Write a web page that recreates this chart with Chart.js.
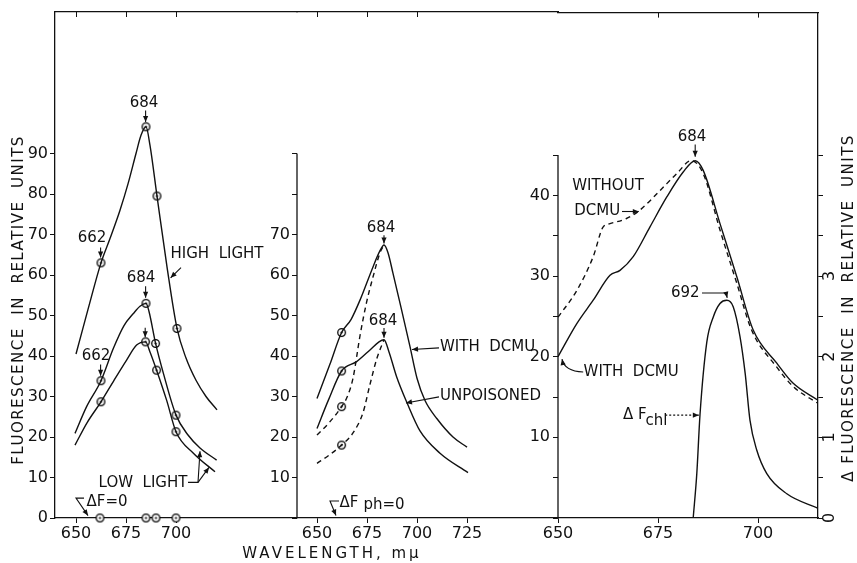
<!DOCTYPE html>
<html>
<head>
<meta charset="utf-8">
<script src="https://cdn.jsdelivr.net/npm/chart.js@4.4.1/dist/chart.umd.min.js"></script>
<style>
html, body { margin: 0; padding: 0; background: #fff; }
#wrap { position: relative; width: 857px; height: 563px; }
#wrap canvas { position: absolute; left: 0; top: 0; }
</style>
</head>
<body>
<div id="wrap">
  <canvas id="p1" width="857" height="563"></canvas>
  <canvas id="p2" width="857" height="563"></canvas>
  <canvas id="p3" width="857" height="563"></canvas>
</div>
<script>
// Painel 1 - luz alta / luz baixa
const highNm  = [650, 656, 662.5, 667, 672, 676, 680, 682.5, 685, 687, 690.5, 695.5, 700.5, 705, 710, 715, 720.5];
const highVal = [40.5, 51.5, 63, 69, 76, 82.5, 90, 94.5, 96.6, 92, 79.5, 62, 46.8, 39.5, 34, 30, 26.7];
const lowUpNm  = [649.5, 655.3, 662.5, 668.7, 674, 678.7, 682, 685, 686.5, 689.8, 693.7, 700, 706, 712, 720.3];
const lowUpVal = [20.9, 27.5, 33.9, 41.9, 47.5, 50.5, 52.3, 53, 51, 43.1, 35.7, 25.4, 20.5, 17.3, 14.3];
const lowDnNm  = [649.5, 655.5, 662.5, 669, 675.3, 680.3, 684.8, 687, 690.3, 695.3, 700, 708.7, 719.5];
const lowDnVal = [18, 23.5, 28.7, 34, 39, 42.7, 43.5, 41, 36.5, 29.1, 21.3, 16, 11.4];
const highMarkNm  = [662.5, 685, 690.5, 700.5];
const highMarkVal = [63, 96.6, 79.5, 46.8];
const lowUpMarkNm  = [662.5, 685, 689.8, 700];
const lowUpMarkVal = [33.9, 53, 43.1, 25.4];
const lowDnMarkNm  = [662.5, 684.8, 690.3, 700];
const lowDnMarkVal = [28.7, 43.5, 36.5, 21.3];
const zeroMarkNm  = [662, 685, 690, 700];
const zeroMarkVal = [0, 0, 0, 0];

// Painel 2 - com DCMU / sem veneno
const dcmuNm  = [650, 656.5, 662.3, 667, 671.5, 678, 681.5, 683.5, 685.5, 688, 692, 696.5, 700, 704, 710, 718, 725];
const dcmuVal = [29.5, 38, 45.8, 49, 53.8, 62, 66, 67.4, 65.5, 60.4, 52, 42.3, 34.5, 29, 24.5, 20, 17.5];
const unpNm  = [650, 655.7, 662.3, 669.8, 676.5, 681, 683.5, 686, 689.8, 694.8, 701.5, 711.5, 725.5];
const unpVal = [22.1, 29.1, 36.3, 38.6, 41.5, 43.5, 44, 41, 34.9, 28.7, 21.5, 16, 11.2];
const dcmuDashNm  = [650, 656, 662.3, 665, 668, 671.5, 674.8, 678, 681.5, 683.5];
const dcmuDashVal = [20.5, 23.5, 27.5, 29.8, 34.5, 45, 53.3, 59.5, 65.5, 67.4];
const unpDashNm  = [650, 656, 662.3, 668, 673, 676.5, 680, 683.5];
const unpDashVal = [13.5, 15.5, 18, 21, 26, 33, 39.5, 44];
const p2MarkNm  = [662.3, 662.3, 662.3, 662.3];
const p2MarkVal = [45.8, 36.3, 27.5, 18];

// Painel 3 - com / sem DCMU e delta F chl
const withNm  = [650, 654.7, 658.8, 663, 665.5, 668.8, 673, 677.2, 681.3, 684.3, 686.3, 690.5, 694.7, 698.8, 704.7, 708.8, 715];
const withVal = [20, 24.1, 27, 30.1, 30.7, 32.4, 36.1, 39.8, 42.9, 44.3, 43.1, 36.5, 29.9, 23.3, 19.2, 16.7, 14.6];
const withoutNm  = [650, 654.7, 658.8, 661.3, 663, 667, 670.3, 675.5, 679.7, 683.3, 686.3, 690.5, 694.7, 698.4, 704.7, 708.8, 715];
const withoutVal = [24.9, 28.2, 32.4, 36.1, 36.5, 37.1, 38.1, 40.6, 42.7, 44.3, 42.7, 35.7, 29.1, 23.3, 18.7, 16.3, 14.2];
const chlNm  = [683.8, 684.7, 685.5, 687.2, 688.8, 690.5, 692.2, 693.8, 695.5, 696.8, 698, 699.7, 702.2, 707.2, 715];
const chlVal = [0, 0.55, 1.28, 2.18, 2.49, 2.66, 2.7, 2.62, 2.25, 1.79, 1.21, 0.84, 0.55, 0.3, 0.12];

// Ticks
const p1XTicks = [650, 675, 700];
const p2XTicks = [650, 675, 700, 725];
const p2TopTicks = [650, 675, 700];
const p3XTicks = [650, 675, 700];
const p3TopTicks = [675, 700];
const p1YTicks = [0, 10, 20, 30, 40, 50, 60, 70, 80, 90];
const p2YTicks = [0, 10, 20, 30, 40, 50, 60, 70, 80, 90];
const p3YTicks = [0, 5, 10, 15, 20, 25, 30, 35, 40, 45];
const p3RightTicks = [0, 0.5, 1, 1.5, 2, 2.5, 3, 3.5, 4, 4.5];
const p3RightLabels = [0, 1, 2, 3];

const INK = '#111';
Chart.defaults.font.family = "'DejaVu Sans', sans-serif";
Chart.defaults.font.size = 16;
Chart.defaults.color = INK;

const xy = (nm, v) => nm.map((x, i) => ({ x, y: v[i] }));

// marcador: círculo com ponto no centro
function ringDot() {
    const c = document.createElement('canvas');
    c.width = c.height = 11;
    const g = c.getContext('2d');
    g.strokeStyle = '#000'; g.lineWidth = 1.3; g.fillStyle = '#fff';
    g.beginPath(); g.arc(5.5, 5.5, 3.8, 0, 2 * Math.PI); g.fill(); g.stroke();
    g.fillStyle = '#000';
    g.beginPath(); g.arc(5.5, 5.5, 1.1, 0, 2 * Math.PI); g.fill();
    return c;
}
const MARK = ringDot();

const curve = (data, dash, yAxisID) => ({
    data, yAxisID: yAxisID || 'y',
    borderColor: INK, borderWidth: 1.4, borderDash: dash ? [5, 4] : [],
    pointRadius: 0, cubicInterpolationMode: 'monotone', fill: false
});
const marks = (data) => ({
    data, showLine: false, pointStyle: MARK, pointRadius: 4, clip: false,
    borderColor: INK, backgroundColor: '#fff'
});

const GRID = { display: true, drawOnChartArea: false, drawTicks: true, tickLength: 5, color: INK, lineWidth: 1 };
const BORDER = { display: true, color: INK, width: 1.3 };
const setTicks = (list) => (s) => { s.ticks = list.map(v => ({ value: v })); };

function xScales(min, max, bottomTicks, topTicks) {
    return {
        x: { type: 'linear', position: 'bottom', min, max,
             afterBuildTicks: setTicks(bottomTicks), afterFit: s => { s.height = 30; },
             grid: GRID, border: BORDER, ticks: { padding: 1, maxRotation: 0, autoSkip: false } },
        xt: { type: 'linear', position: 'top', min, max,
              afterBuildTicks: setTicks(topTicks), afterFit: s => { s.height = 0; },
              grid: { ...GRID, tickLength: -5 }, border: BORDER, ticks: { display: false } }
    };
}

function head(ctx, a, b) {
    const ang = Math.atan2(b[1] - a[1], b[0] - a[0]), L = 6, W = 2.6;
    ctx.beginPath();
    ctx.moveTo(b[0], b[1]);
    ctx.lineTo(b[0] - L * Math.cos(ang) + W * Math.sin(ang), b[1] - L * Math.sin(ang) - W * Math.cos(ang));
    ctx.lineTo(b[0] - L * Math.cos(ang) - W * Math.sin(ang), b[1] - L * Math.sin(ang) + W * Math.cos(ang));
    ctx.closePath();
    ctx.fill();
}

// anotações em coordenadas de dados (nm, valor do eixo esquerdo)
function drawNotes(chart, notes) {
    const { ctx, scales } = chart;
    const X = v => scales.x.getPixelForValue(v);
    const Y = v => scales.y.getPixelForValue(v);
    ctx.save();
    ctx.fillStyle = INK; ctx.strokeStyle = INK; ctx.lineWidth = 1.1;
    notes.forEach(n => {
        if (n.t) {
            ctx.font = n.font || "15px 'DejaVu Sans'";
            ctx.textAlign = n.align || 'center';
            ctx.textBaseline = 'middle';
            ctx.fillText(n.t, X(n.x), Y(n.y));
        }
        if (n.path) {
            const p = n.path.map(([u, v]) => [X(u), Y(v)]);
            ctx.setLineDash(n.dash || []);
            ctx.beginPath();
            ctx.moveTo(p[0][0], p[0][1]);
            if (n.q) ctx.quadraticCurveTo(p[1][0], p[1][1], p[2][0], p[2][1]);
            else p.slice(1).forEach(q => ctx.lineTo(q[0], q[1]));
            ctx.stroke();
            ctx.setLineDash([]);
            head(ctx, p[p.length - 2], p[p.length - 1]);
        }
    });
    ctx.restore();
}

function vText(ctx, text, x, y, font, spacing) {
    ctx.save();
    ctx.translate(x, y);
    ctx.rotate(-Math.PI / 2);
    ctx.font = font;
    ctx.letterSpacing = spacing || '0px';
    ctx.textAlign = 'center'; ctx.textBaseline = 'middle';
    ctx.fillStyle = INK;
    ctx.fillText(text, 0, 0);
    ctx.restore();
}

const notes1 = [
    { t: '684', x: 684, y: 102.5 },
    { path: [[684.8, 100.6], [684.8, 97.8]] },
    { t: '662', x: 658, y: 69.1 },
    { path: [[662.3, 66.8], [662.3, 64.3]] },
    { t: 'HIGH  LIGHT', x: 720.5, y: 65.2 },
    { path: [[702.5, 61.8], [697.3, 59.3]] },
    { t: '684', x: 682.5, y: 59.3 },
    { path: [[684.8, 57.2], [684.8, 54.4]] },
    { path: [[684.6, 47], [684.6, 44.6]] },
    { t: '662', x: 660, y: 40 },
    { path: [[662.3, 37.9], [662.3, 35.1]] },
    { t: 'LOW  LIGHT', x: 683.5, y: 8.6 },
    { path: [[706, 8.8], [711, 8.8], [712, 16.5]] },
    { path: [[711, 8.8], [716.5, 12.5]] },
    { t: 'ΔF=0', x: 665.5, y: 4 },
    { path: [[654, 4.9], [650, 4.9], [656, 0.6]] }
];
const notes2 = [
    { t: '684', x: 682, y: 71.6 },
    { path: [[683.5, 69.8], [683.5, 67.8]] },
    { t: '684', x: 683, y: 48.6 },
    { path: [[683.5, 46.9], [683.5, 44.5]] },
    { t: 'WITH  DCMU', x: 711.5, y: 42.2, align: 'left' },
    { path: [[711, 42], [697.5, 41.6]] },
    { t: 'UNPOISONED', x: 711.5, y: 30.1, align: 'left' },
    { path: [[711, 29.9], [694.5, 28.4]] },
    { t: 'ΔF', x: 666, y: 3.8 },
    { t: 'ph=0', x: 683.5, y: 3.1 },
    { path: [[661, 4.2], [656.5, 4.2], [659.5, 0.6]] }
];
const notes3 = [
    { t: '684', x: 683.5, y: 47.2 },
    { path: [[684.3, 46.3], [684.3, 44.8]] },
    { t: 'WITHOUT', x: 662.5, y: 41.1 },
    { t: 'DCMU', x: 659.8, y: 38 },
    { path: [[666, 38], [670.2, 38]] },
    { t: 'WITH  DCMU', x: 668.3, y: 18.1 },
    { path: [[656.3, 18.1], [651.6, 18.2], [651, 19.7]], q: true },
    { t: '692', x: 681.8, y: 27.9 },
    { path: [[686, 27.9], [692, 27.9], [692.3, 27.3]] },
    { t: 'Δ F', x: 669.2, y: 12.75 },
    { t: 'chl', x: 674.6, y: 12.0 },
    { path: [[676.8, 12.75], [685.2, 12.75]], dash: [2, 2] }
];

const Y_MAX = 124.94;   // 0..90 na mesma escala dos painéis 1 e 2
const Y3_MAX = 62.66;

// Painel 1
new Chart(document.getElementById('p1'), {
    type: 'line',
    data: { datasets: [
        curve(xy(highNm, highVal)),
        curve(xy(lowUpNm, lowUpVal)),
        curve(xy(lowDnNm, lowDnVal)),
        marks(xy(highMarkNm, highMarkVal)),
        marks(xy(lowUpMarkNm, lowUpMarkVal)),
        marks(xy(lowDnMarkNm, lowDnMarkVal)),
        marks(xy(zeroMarkNm, zeroMarkVal))
    ] },
    options: {
        responsive: false, animation: false,
        layout: { padding: { left: 15, right: 560, top: 12, bottom: 15 } },
        plugins: { legend: { display: false }, tooltip: { enabled: false } },
        scales: {
            ...xScales(639.5, 760.5, p1XTicks, p1XTicks),
            y: { type: 'linear', min: 0, max: Y_MAX, afterBuildTicks: setTicks(p1YTicks),
                 afterFit: s => { s.width = 40; }, grid: GRID, border: BORDER, ticks: { padding: 2 } }
        }
    },
    plugins: [{ id: 'deco1', afterDraw(chart) {
        drawNotes(chart, notes1);
        vText(chart.ctx, 'FLUORESCENCE  IN  RELATIVE  UNITS', 19, 300, "15px 'DejaVu Sans'", '1.5px');
        const ctx = chart.ctx;
        ctx.save();
        ctx.font = "15px 'DejaVu Sans'"; ctx.letterSpacing = '3px';
        ctx.textAlign = 'center'; ctx.textBaseline = 'middle'; ctx.fillStyle = INK;
        ctx.fillText('WAVELENGTH, mμ', 332, 554);
        ctx.restore();
    } }]
});

// Painel 2
new Chart(document.getElementById('p2'), {
    type: 'line',
    data: { datasets: [
        curve(xy(dcmuNm, dcmuVal)),
        curve(xy(unpNm, unpVal)),
        curve(xy(dcmuDashNm, dcmuDashVal), true),
        curve(xy(unpDashNm, unpDashVal), true),
        marks(xy(p2MarkNm, p2MarkVal))
    ] },
    options: {
        responsive: false, animation: false,
        layout: { padding: { left: 257, right: 299, top: 12, bottom: 15 } },
        plugins: { legend: { display: false }, tooltip: { enabled: false } },
        scales: {
            ...xScales(640, 770.5, p2XTicks, p2TopTicks),
            y: { type: 'linear', min: 0, max: Y_MAX, afterBuildTicks: setTicks(p2YTicks),
                 afterFit: s => { s.width = 40; }, grid: GRID, border: { display: false },
                 ticks: { padding: 2, callback: v => (v >= 10 && v <= 70) ? v : '' } }
        }
    },
    plugins: [{ id: 'deco2', afterDraw(chart) {
        const { ctx, scales, chartArea } = chart;
        ctx.save();
        ctx.strokeStyle = INK; ctx.lineWidth = 1.3;
        ctx.beginPath();
        ctx.moveTo(chartArea.left, scales.y.getPixelForValue(0));
        ctx.lineTo(chartArea.left, scales.y.getPixelForValue(90));
        ctx.stroke();
        ctx.restore();
        drawNotes(chart, notes2);
    } }]
});

// Painel 3
new Chart(document.getElementById('p3'), {
    type: 'line',
    data: { datasets: [
        curve(xy(withNm, withVal)),
        curve(xy(withoutNm, withoutVal), true),
        curve(xy(chlNm, chlVal), false, 'y2')
    ] },
    options: {
        responsive: false, animation: false,
        layout: { padding: { left: 518, right: 9, top: 12, bottom: 15 } },
        plugins: { legend: { display: false }, tooltip: { enabled: false } },
        scales: {
            ...xScales(650, 715, p3XTicks, p3TopTicks),
            y: { type: 'linear', position: 'left', min: 0, max: Y3_MAX, afterBuildTicks: setTicks(p3YTicks),
                 afterFit: s => { s.width = 40; }, grid: GRID, border: { display: false },
                 ticks: { padding: 3, callback: v => (v > 0 && v % 10 === 0) ? v : '' } },
            y2: { type: 'linear', position: 'right', min: 0, max: Y3_MAX / 10, afterBuildTicks: setTicks(p3RightTicks),
                  afterFit: s => { s.width = 30; }, grid: GRID, border: BORDER, ticks: { display: false } }
        }
    },
    plugins: [{ id: 'deco3', afterDraw(chart) {
        const { ctx, scales, chartArea } = chart;
        ctx.save();
        ctx.strokeStyle = INK; ctx.lineWidth = 1.3;
        ctx.beginPath();
        ctx.moveTo(chartArea.left, scales.y.getPixelForValue(0));
        ctx.lineTo(chartArea.left, scales.y.getPixelForValue(45));
        ctx.stroke();
        ctx.restore();
        p3RightLabels.forEach(v => vText(ctx, String(v), chartArea.right + 12, scales.y2.getPixelForValue(v), "16px 'DejaVu Sans'"));
        vText(ctx, 'Δ FLUORESCENCE  IN  RELATIVE  UNITS', 849, 308, "15px 'DejaVu Sans'", '1.5px');
        drawNotes(chart, notes3);
    } }]
});
</script>
</body>
</html>
